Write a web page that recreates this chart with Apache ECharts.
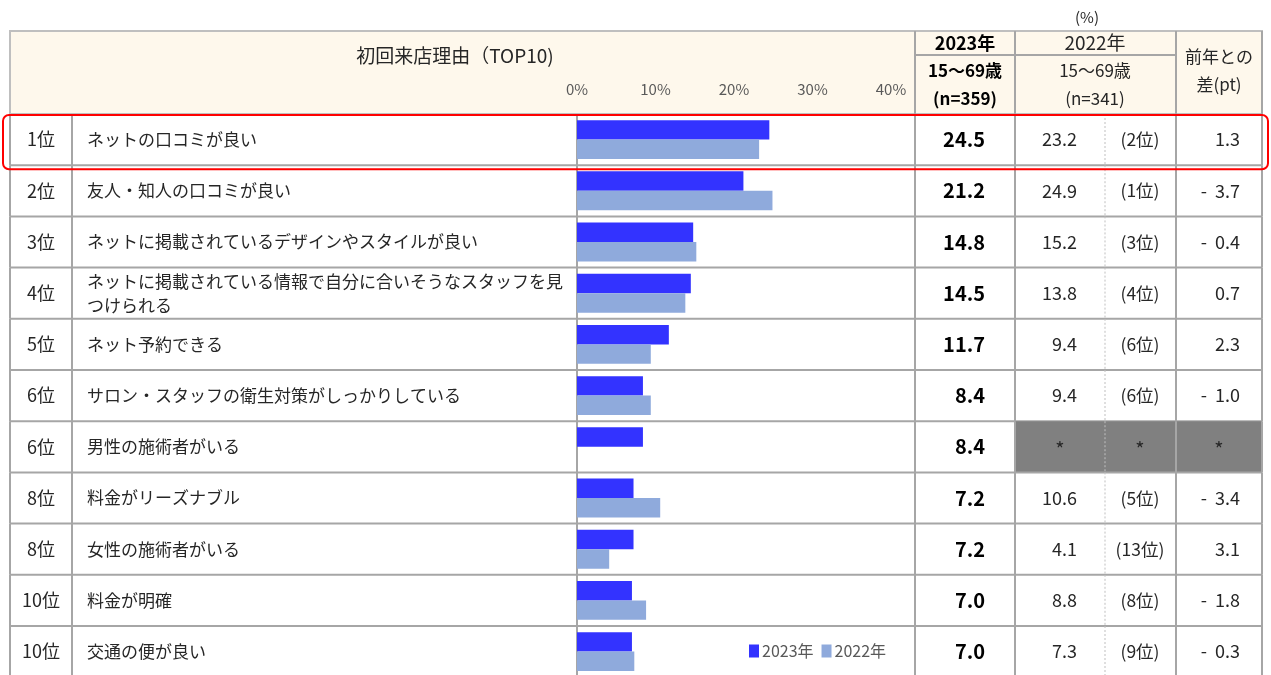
<!DOCTYPE html>
<html>
<head>
<meta charset="utf-8">
<script src="https://cdn.jsdelivr.net/npm/echarts@6/dist/echarts.min.js"></script>
<style>
  html, body { margin: 0; padding: 0; background: #fff; overflow: hidden; }
  #main { width: 1271px; height: 690px; }
</style>
</head>
<body>
<div id="main"></div>
<script>
var FONT = '"Noto Sans CJK JP", sans-serif';

// data
var ranks = ['1位', '2位', '3位', '4位', '5位', '6位', '6位', '8位', '8位', '10位', '10位'];
var reasons = [
  'ネットの口コミが良い',
  '友人・知人の口コミが良い',
  'ネットに掲載されているデザインやスタイルが良い',
  'ネットに掲載されている情報で自分に合いそうなスタッフを見つけられる',
  'ネット予約できる',
  'サロン・スタッフの衛生対策がしっかりしている',
  '男性の施術者がいる',
  '料金がリーズナブル',
  '女性の施術者がいる',
  '料金が明確',
  '交通の便が良い'
];
var values2023 = [24.5, 21.2, 14.8, 14.5, 11.7, 8.4, 8.4, 7.2, 7.2, 7.0, 7.0];
var values2022 = [23.2, 24.9, 15.2, 13.8, 9.4, 9.4, null, 10.6, 4.1, 8.8, 7.3];
var ranks2022 = ['(2位)', '(1位)', '(3位)', '(4位)', '(6位)', '(6位)', null, '(5位)', '(13位)', '(8位)', '(9位)'];
var diffs = ['1.3', '-  3.7', '-  0.4', '0.7', '2.3', '-  1.0', null, '-  3.4', '3.1', '-  1.8', '-  0.3'];
var axisTicks = [0, 10, 20, 30, 40];
var highlightRow = 0;

// table columns (x positions)
var X = { left: 10, rank: 72, bar: 577, c23: 915, c22: 1015, cRk: 1105, cDiff: 1176, right: 1262 };
var headTop = 31, headBottom = 114, rowH = 51.2;
var LINE = '#A6A6A6';

var chart = echarts.init(document.getElementById('main'));

function txt(text, x, y, opt) {
  opt = opt || {};
  return {
    type: 'text',
    style: {
      text: text, x: x, y: y,
      fill: opt.fill || '#262626',
      font: (opt.bold ? 'bold ' : '') + (opt.size || 16) + 'px ' + FONT,
      align: opt.align || 'center',
      verticalAlign: 'middle',
      width: opt.width, overflow: opt.width ? 'break' : undefined,
      lineHeight: opt.lineHeight
    }
  };
}
function ln(x1, y1, x2, y2, color, w, dash) {
  return {
    type: 'line',
    shape: { x1: x1, y1: y1, x2: x2, y2: y2 },
    style: { stroke: color || LINE, lineWidth: w || 2, lineDash: dash }
  };
}
function headText(text, x, y, size, bold) {
  return { type: 'text', x: x, y: y, style: {
    text: text, font: (bold ? 'bold ' : '') + size + 'px ' + FONT,
    fill: bold ? '#000' : '#262626', align: 'center', verticalAlign: 'middle' } };
}
function headLine(x1, y1, x2, y2) {
  return { type: 'line', shape: { x1: x1, y1: y1, x2: x2, y2: y2 }, style: { stroke: LINE, lineWidth: 2 } };
}

function renderRow(params, api) {
  var i = api.value(1);
  var c = api.coord([0, i]);
  var h = api.size([0, 1])[1];
  var top = c[1] - h / 2, bot = c[1] + h / 2, mid = c[1];
  var kids = [];
  if (values2022[i] == null) {
    kids.push({ type: 'rect', shape: { x: X.c22, y: top, width: X.right - X.c22, height: h },
      style: { fill: '#808080' } });
  }
  kids.push(ln(X.left, bot, X.right, bot));
  [X.left, X.rank, X.bar, X.c23, X.c22, X.cDiff, X.right].forEach(function (x) {
    kids.push(ln(x, top, x, bot));
  });
  kids.push(ln(X.cRk, top, X.cRk, bot, '#BFBFBF', 1, [2, 2]));
  kids.push(txt(ranks[i], 41, mid, { size: 18 }));
  kids.push(txt(reasons[i], 87, mid, { size: 17, align: 'left', width: 482, lineHeight: 24 }));
  kids.push(txt(values2023[i].toFixed(1), 985, mid, { size: 20, bold: true, align: 'right', fill: '#000' }));
  if (values2022[i] == null) {
    kids.push(txt('*', 1060, mid + 3, { size: 20 }));
    kids.push(txt('*', 1140, mid + 3, { size: 20 }));
    kids.push(txt('*', 1219, mid + 3, { size: 20 }));
  } else {
    kids.push(txt(values2022[i].toFixed(1), 1077, mid, { size: 18, align: 'right' }));
    kids.push(txt(ranks2022[i], 1140, mid, { size: 17.5 }));
    kids.push(txt(diffs[i], 1240, mid, { size: 18, align: 'right' }));
  }
  if (i === highlightRow) {
    kids.push({ type: 'rect', shape: { x: 3, y: top + 1, width: 1265, height: h + 3, r: 6 },
      style: { fill: 'none', stroke: '#FF0000', lineWidth: 2 }, z2: 10 });
  }
  return { type: 'group', children: kids };
}

var option = {
  animation: false,
  textStyle: { fontFamily: FONT },
  graphic: [
    { type: 'rect', shape: { x: X.left, y: headTop, width: X.right - X.left, height: headBottom - headTop },
      style: { fill: '#FEF8EC', stroke: '#BFBFBF', lineWidth: 2 }, z: -10 },
    headLine(X.c23, headTop, X.c23, headBottom),
    headLine(X.c22, headTop, X.c22, headBottom),
    headLine(X.cDiff, headTop, X.cDiff, headBottom),
    headLine(X.right, headTop, X.right, headBottom),
    headLine(X.c23, 55, X.cDiff, 55),
    headText('(%)', 1087, 17, 15),
    headText('初回来店理由（TOP10)', 455, 56, 19),
    headText('2023年', 965, 43, 18, true),
    headText('15〜69歳', 965, 71, 17, true),
    headText('(n=359)', 965, 99, 17, true),
    headText('2022年', 1095, 43, 19),
    headText('15〜69歳', 1095, 71, 17),
    headText('(n=341)', 1095, 99, 17),
    headText('前年との', 1219, 57, 17),
    headText('差(pt)', 1219, 85, 17)
  ],
  legend: {
    left: 744, top: 638,
    itemWidth: 10, itemHeight: 13, itemGap: 8,
    icon: 'rect',
    textStyle: { fontSize: 16, color: '#595959', fontFamily: FONT, padding: [0, 0, 0, -2] },
    data: ['2023年', '2022年']
  },
  grid: { left: X.bar, top: headBottom, width: 314, height: rowH * ranks.length },
  xAxis: {
    type: 'value', position: 'top',
    min: axisTicks[0], max: axisTicks[axisTicks.length - 1], interval: 10,
    axisLine: { show: false }, axisTick: { show: false }, splitLine: { show: false },
    axisLabel: { formatter: '{value}%', color: '#595959', fontSize: 15, margin: 17, fontFamily: FONT }
  },
  yAxis: {
    type: 'category', inverse: true, data: reasons,
    axisLine: { show: false }, axisTick: { show: false }, axisLabel: { show: false }
  },
  series: [
    {
      type: 'custom', name: 'table', silent: true, clip: false, z: 1,
      renderItem: renderRow,
      data: reasons.map(function (r, i) { return [0, i]; })
    },
    {
      type: 'bar', name: '2023年', data: values2023, z: 3,
      barCategoryGap: '24%', barGap: '0%',
      itemStyle: { color: '#3333FF' }
    },
    {
      type: 'bar', name: '2022年', data: values2022, z: 3,
      itemStyle: { color: '#8FAADC' }
    }
  ]
};
chart.setOption(option);
</script>
</body>
</html>
